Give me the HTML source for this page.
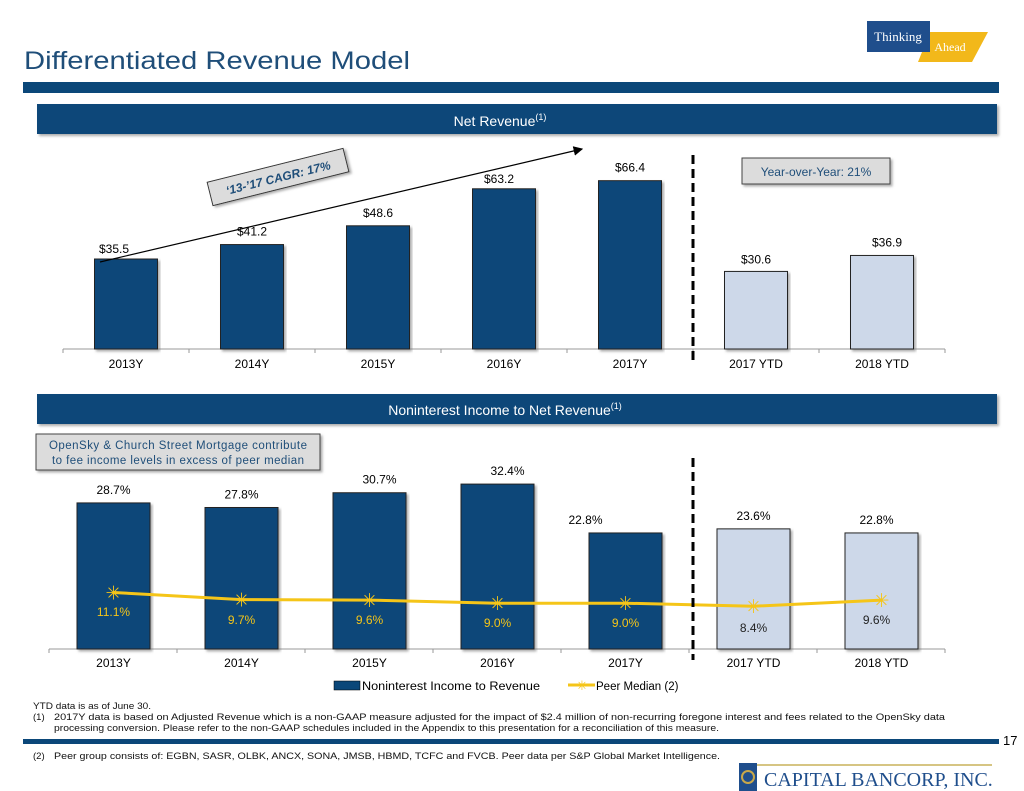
<!DOCTYPE html>
<html><head><meta charset="utf-8"><style>
body{margin:0;background:#fff;}
svg{display:block;font-family:"Liberation Sans",sans-serif;}
</style></head><body>
<svg width="1024" height="791" viewBox="0 0 1024 791">
<defs><filter id="sh" x="-5%" y="-20%" width="110%" height="150%"><feDropShadow dx="2" dy="2" stdDeviation="1.2" flood-color="#777" flood-opacity="0.6"/></filter>
<marker id="ar" markerWidth="8" markerHeight="8" refX="7" refY="4" orient="auto"><path d="M0,0 L8,4 L0,8 z" fill="#000"/></marker></defs>
<text x="24" y="69" font-size="25" fill="#1f4e79" textLength="386" lengthAdjust="spacingAndGlyphs">Differentiated Revenue Model</text>
<g>
<polygon points="930,32 988,32 972,62 918,62" fill="#f2b81a"/>
<rect x="867" y="21" width="63" height="31" fill="#1f4e8c"/>
<text x="898" y="41" font-family="Liberation Serif" font-size="13" fill="#fff" text-anchor="middle">Thinking</text>
<text x="950" y="51" font-family="Liberation Serif" font-size="12" fill="#fff" text-anchor="middle">Ahead</text>
</g>
<rect x="23" y="82" width="976" height="11" fill="#0b4779"/>
<rect x="37" y="104" width="960" height="30" fill="#0b4779" filter="url(#sh)"/>
<text x="500" y="126" font-size="14" fill="#fff" text-anchor="middle">Net Revenue<tspan font-size="9" dy="-6">(1)</tspan></text>
<rect x="37" y="394" width="960" height="30" fill="#0b4779" filter="url(#sh)"/>
<text x="505" y="415" font-size="14" fill="#fff" text-anchor="middle">Noninterest Income to Net Revenue<tspan font-size="9" dy="-6">(1)</tspan></text>
<g id="c1"></g><g id="c2"></g>
<g>
<line x1="100" y1="262" x2="582" y2="149" stroke="#000" stroke-width="1.2" marker-end="url(#ar)"/>
<g transform="rotate(-14 278 177)"><rect x="208" y="165" width="140" height="24" fill="#dcdcdc" stroke="#333" filter="url(#sh)"/><text x="278" y="182" font-size="12" font-weight="bold" font-style="italic" fill="#1f4e79" text-anchor="middle">‘13-’17 CAGR: 17%</text></g>
</g>
<g><rect x="742" y="158" width="148" height="26" fill="#dcdcdc" stroke="#444" filter="url(#sh)"/><text x="816" y="176" font-size="12" fill="#1f4e79" text-anchor="middle">Year-over-Year: 21%</text></g>
<g><rect x="36" y="434" width="284" height="36" fill="#dcdcdc" stroke="#444" filter="url(#sh)"/><text x="178" y="449" font-size="11.5" fill="#1f4e79" text-anchor="middle" textLength="258">OpenSky &amp; Church Street Mortgage contribute</text><text x="178" y="464" font-size="11.5" fill="#1f4e79" text-anchor="middle" textLength="252">to fee income levels in excess of peer median</text></g>
<line x1="693" y1="155" x2="693" y2="360" stroke="#000" stroke-width="3" stroke-dasharray="9,5"/>
<line x1="693" y1="458" x2="693" y2="660" stroke="#000" stroke-width="3" stroke-dasharray="9,5"/>
<g>
<rect x="334" y="681" width="26" height="9" fill="#0b4779" stroke="#000" stroke-width="0.5"/><text x="362" y="690" font-size="11.5" textLength="178" lengthAdjust="spacingAndGlyphs">Noninterest Income to Revenue</text>
<line x1="568" y1="685" x2="595" y2="685" stroke="#f5c518" stroke-width="3"/><text x="582" y="690" font-size="13" fill="#f5c518" text-anchor="middle">✳</text><text x="596" y="690" font-size="11.5">Peer Median (2)</text>
</g>
<g font-size="9.5" fill="#111">
<text x="33" y="709" textLength="118" lengthAdjust="spacingAndGlyphs">YTD data is as of June 30.</text>
<text x="33" y="720">(1)</text><text x="54" y="720" textLength="891" lengthAdjust="spacingAndGlyphs">2017Y data is based on Adjusted Revenue which is a non-GAAP measure adjusted for the impact of $2.4 million of non-recurring foregone interest and fees related to the OpenSky data</text>
<text x="54" y="731" textLength="665" lengthAdjust="spacingAndGlyphs">processing conversion. Please refer to the non-GAAP schedules included in the Appendix to this presentation for a reconciliation of this measure.</text>
<text x="33" y="759">(2)</text><text x="54" y="759" textLength="666" lengthAdjust="spacingAndGlyphs">Peer group consists of: EGBN, SASR, OLBK, ANCX, SONA, JMSB, HBMD, TCFC and FVCB. Peer data per S&amp;P Global Market Intelligence.</text>
</g>
<rect x="23" y="739" width="976" height="5" fill="#0b4779"/>
<text x="1003" y="745" font-size="13">17</text>
<g>
<rect x="739" y="763" width="18" height="28" fill="#1f4e8c"/><line x1="757" y1="765" x2="992" y2="765" stroke="#c9b25a" stroke-width="1.5"/>
<circle cx="748" cy="777" r="6" fill="none" stroke="#c9a84a" stroke-width="2"/>
<text x="764" y="786" font-family="Liberation Serif" font-size="20" fill="#1f4e8c">CAPITAL BANCORP, INC.</text>
</g>
</svg>
<script>
const cats=["2013Y","2014Y","2015Y","2016Y","2017Y","2017 YTD","2018 YTD"];
const revenue=[35.5,41.2,48.6,63.2,66.4,30.6,36.9];
const revLabels=["$35.5","$41.2","$48.6","$63.2","$66.4","$30.6","$36.9"];
const nonint=[28.7,27.8,30.7,32.4,22.8,23.6,22.8];
const peer=[11.1,9.7,9.6,9.0,9.0,8.4,9.6];
const NS="http://www.w3.org/2000/svg";
function mk(p,t,a){const e=document.createElementNS(NS,t);for(const k in a)e.setAttribute(k,a[k]);p.appendChild(e);return e;}
// chart 1
const c1=document.getElementById('c1');
const x1=i=>126+i*126, y1=v=>349-v*2.535;
let ax=mk(c1,'line',{x1:63,y1:349,x2:945,y2:349,stroke:'#999'});


for(let i=0;i<=cats.length;i++){mk(c1,'line',{x1:63+i*126,y1:349,x2:63+i*126,y2:353,stroke:'#999'});}
revenue.forEach((v,i)=>{
const r=mk(c1,'rect',{x:x1(i)-31.5,y:y1(v),width:63,height:349-y1(v),fill:i>4?'#cdd8e9':'#0b4779',stroke:'#222','stroke-width':1,filter:'url(#sh)'});


const t=mk(c1,'text',{x:x1(i)+(i==0?-12:i==6?5:i==3?-5:0),y:y1(v)-(i==3||i==0?6:i==6?9:i==5?8:9),'font-size':12,'text-anchor':'middle'});t.textContent=revLabels[i];


const l=mk(c1,'text',{x:x1(i),y:368,'font-size':12,'text-anchor':'middle'});l.textContent=cats[i];


});
// chart 2
const c2=document.getElementById('c2');
const x2=i=>113.5+i*128, y2=v=>649-v*5.09;
ax=mk(c2,'line',{x1:49,y1:649,x2:945,y2:649,stroke:'#999'});


for(let i=0;i<=cats.length;i++){mk(c2,'line',{x1:49+i*128,y1:649,x2:49+i*128,y2:653,stroke:'#999'});}
nonint.forEach((v,i)=>{
const r=mk(c2,'rect',{x:x2(i)-36.5,y:y2(v),width:73,height:649-y2(v),fill:i>4?'#cdd8e9':'#0b4779',stroke:'#222','stroke-width':1,filter:'url(#sh)'});


const hi=i>=4;
const t=mk(c2,'text',{x:x2(i)+(i==2||i==3?10:0)+(i==4?-40:i==6?-5:0),y:hi?(i==5?520:524):y2(v)-9,'font-size':12,'text-anchor':'middle'});t.textContent=v.toFixed(1)+'%';


const l=mk(c2,'text',{x:x2(i),y:667,'font-size':12,'text-anchor':'middle'});l.textContent=cats[i];


});
const pl=mk(c2,'polyline',{points:peer.map((v,i)=>x2(i)+','+y2(v)).join(' '),fill:'none',stroke:'#f5c518','stroke-width':3});


peer.forEach((v,i)=>{
const m=mk(c2,'text',{x:x2(i),y:y2(v)+7,'font-size':19,fill:'#f5c518','text-anchor':'middle'});m.textContent='✳';


const t=mk(c2,'text',{x:x2(i)+(i==6?-5:0),y:i==5?632:i==0?616:624+(v<9.5?3:0),'font-size':12,fill:i>4?'#222':'#f5c518','text-anchor':'middle'});t.textContent=v.toFixed(1)+'%';


});
</script>
</body></html>
